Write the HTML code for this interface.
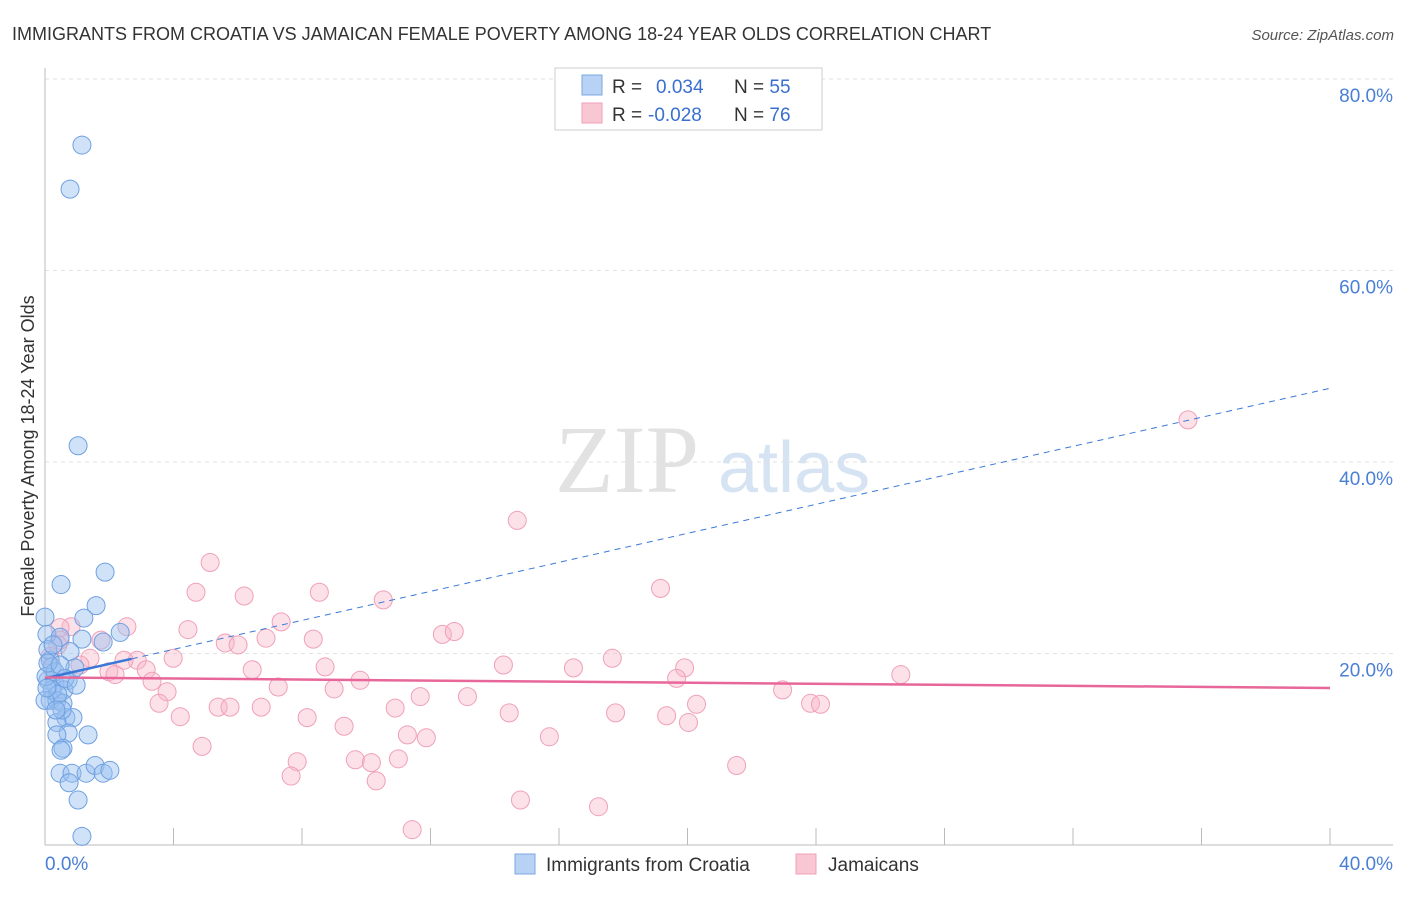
<!DOCTYPE html>
<html><head><meta charset="utf-8"><style>
body{margin:0;background:#fff;font-family:"Liberation Sans",sans-serif}
</style></head><body>
<svg width="1406" height="892" xmlns="http://www.w3.org/2000/svg" font-family="Liberation Sans, sans-serif">
<text x="12" y="40" font-size="18" fill="#333">IMMIGRANTS FROM CROATIA VS JAMAICAN FEMALE POVERTY AMONG 18-24 YEAR OLDS CORRELATION CHART</text>
<text x="1394" y="40" font-size="15" fill="#555" text-anchor="end" font-style="italic">Source: ZipAtlas.com</text>
<g>
<text x="555" y="492" font-size="96" font-family="Liberation Serif, serif" fill="#e2e2e2">ZIP</text>
<text x="718" y="492" font-size="72" fill="#d6e3f3">atlas</text>
</g>
<g id="grid"></g>
<g id="axes"></g>
<g id="pts"></g>
<g id="lines"></g>
<text x="34" y="456" font-size="18" fill="#333" text-anchor="middle" transform="rotate(-90 34 456)">Female Poverty Among 18-24 Year Olds</text>
<g>
<rect x="555" y="68" width="267" height="62" fill="#fff" stroke="#ccc"/>
<rect x="582" y="75" width="20" height="20" fill="#b8d2f5" stroke="#7aa8e0"/>
<rect x="582" y="103" width="20" height="20" fill="#f9c6d4" stroke="#f0a0b8"/>
<text x="612" y="93" font-size="19" fill="#333">R = <tspan fill="#3a6fd0" x="656">0.034</tspan><tspan fill="#333" x="734">N = </tspan><tspan fill="#3a6fd0">55</tspan></text>
<text x="612" y="121" font-size="19" fill="#333">R = <tspan fill="#3a6fd0" x="648">-0.028</tspan><tspan fill="#333" x="734">N = </tspan><tspan fill="#3a6fd0">76</tspan></text>
</g>
<g>
<rect x="515" y="854" width="20" height="20" fill="#b8d2f5" stroke="#7aa8e0"/>
<text x="546" y="871" font-size="19" fill="#333">Immigrants from Croatia</text>
<rect x="796" y="854" width="20" height="20" fill="#f9c6d4" stroke="#f0a0b8"/>
<text x="828" y="871" font-size="19" fill="#333">Jamaicans</text>
</g>
</svg>
<script>
const yTicks=[20,40,60,80];
const yTickLabels=["20.0%","40.0%","60.0%","80.0%"];
const xTickLabels=["0.0%","40.0%"];
const blueX=[1.15,0.78,1.03,1.87,0.5,1.59,1.21,0,2.34,1.81,1.15,0.06,0.47,0.78,0.16,0.22,0.72,0.31,0.09,0.59,0.93,0.16,0.37,0.56,0.65,0.87,0.37,1.34,0.72,0.37,0.56,0.5,0.47,0.84,1.28,1.56,1.81,2.02,0.75,1.03,1.15,0.09,0.22,0.4,0.53,0.03,0.31,0.09,0,0.47,0.62,0.06,0.25,0.97,0.34];
const blueY=[73.1,68.5,41.7,28.5,27.2,25.0,23.7,23.8,22.2,21.2,21.5,22.0,21.7,20.2,19.3,18.6,17.2,16.8,17.2,16.2,18.5,15.1,15.1,14.8,13.3,13.3,12.8,11.5,11.7,11.5,10.1,9.9,7.5,7.5,7.5,8.3,7.5,7.8,6.5,4.7,0.9,20.4,16.2,15.7,14.1,17.6,18.1,19.0,15.1,18.8,17.4,16.4,20.9,16.7,14.1];
const pinkX=[35.58,14.7,5.14,19.16,4.7,6.2,8.54,10.53,7.35,2.55,4.45,12.37,12.74,0.81,0.47,1.74,5.61,6.01,6.88,8.35,3.99,2.87,2.46,1.4,1.99,3.15,6.45,8.72,14.27,16.45,17.66,19.91,19.66,26.64,3.33,9.81,3.8,7.26,9.0,11.68,13.15,22.96,23.83,24.14,3.55,4.21,5.39,5.76,6.73,8.16,9.31,10.9,14.45,17.76,19.35,20.03,20.28,4.89,11.28,11.87,15.7,7.85,7.66,9.66,10.16,10.31,11.0,21.53,14.8,17.23,11.43,0.16,0.47,0.4,1.09,2.18];
const pinkY=[44.4,33.9,29.5,26.8,26.4,26.0,26.4,25.6,23.3,22.8,22.5,22.0,22.3,22.8,21.4,21.4,21.1,20.9,21.6,21.5,19.5,19.3,19.3,19.5,18.1,18.3,18.3,18.6,18.8,18.5,19.5,18.5,17.4,17.8,17.1,17.2,16.0,16.5,16.3,15.5,15.5,16.2,14.8,14.7,14.8,13.4,14.4,14.4,14.4,13.3,12.4,14.3,13.8,13.8,13.5,12.8,14.7,10.3,11.5,11.2,11.3,8.7,7.2,8.9,8.6,6.7,9.0,8.3,4.7,4.0,1.6,19.7,22.7,20.9,18.8,17.8];
const blueTrend=[17.4,47.7];
const pinkTrend=[17.5,16.4];
const NS="http://www.w3.org/2000/svg";
const X=v=>45+v/40*1285, Y=v=>845-v/20*191.5;
function mk(tag,attrs,parent){const e=document.createElementNS(NS,tag);for(const k in attrs)e.setAttribute(k,attrs[k]);parent.appendChild(e);return e;}
const grid=document.getElementById('grid'),axes=document.getElementById('axes'),pts=document.getElementById('pts'),lines=document.getElementById('lines');
yTicks.forEach((t,i)=>{
 const l=mk('line',{x1:45,x2:1393,y1:Y(t),y2:Y(t),stroke:'#e2e2e2','stroke-dasharray':'4,4'},grid);
 
 
 const tx=mk('text',{x:1393,y:Y(t)+23,'font-size':19,fill:'#4a7fd6','text-anchor':'end'},axes);
 tx.textContent=yTickLabels[i];
 
 
});
mk('line',{x1:45,x2:45,y1:68,y2:845,stroke:'#bbb'},axes);
mk('line',{x1:45,x2:1393,y1:845,y2:845,stroke:'#bbb'},axes);
for(let i=0;i<=10;i++){const t=mk('line',{x1:X(i*4),x2:X(i*4),y1:828,y2:845,stroke:'#bbb'},axes);
 
 }
[[0,'start',45],[40,'end',1393]].forEach((d,i)=>{const t=mk('text',{x:d[2],y:870,'font-size':19,fill:'#4a7fd6','text-anchor':d[1]},axes);t.textContent=xTickLabels[i];
 
 });
pinkX.forEach((v,i)=>{const c=mk('circle',{cx:X(v),cy:Y(pinkY[i]),r:9,fill:'rgba(248,180,200,0.4)',stroke:'#f0a0b8','stroke-width':1},pts);
 
 });
blueX.forEach((v,i)=>{const c=mk('circle',{cx:X(v),cy:Y(blueY[i]),r:9,fill:'rgba(150,190,240,0.45)',stroke:'#6fa0e0','stroke-width':1},pts);
 
 });
const bAt=x=>blueTrend[0]+(blueTrend[1]-blueTrend[0])*x/40;
let l1=mk('line',{x1:X(0),y1:Y(bAt(0)),x2:X(2.7),y2:Y(bAt(2.7)),stroke:'#3a78d8','stroke-width':2.5},lines);


let l2=mk('line',{x1:X(2.7),y1:Y(bAt(2.7)),x2:X(40),y2:Y(bAt(40)),stroke:'#3a78d8','stroke-width':1,'stroke-dasharray':'6,5'},lines);


let l3=mk('line',{x1:X(0),y1:Y(pinkTrend[0]),x2:X(40),y2:Y(pinkTrend[1]),stroke:'#e8679a','stroke-width':2.5},lines);


</script>
</body></html>
